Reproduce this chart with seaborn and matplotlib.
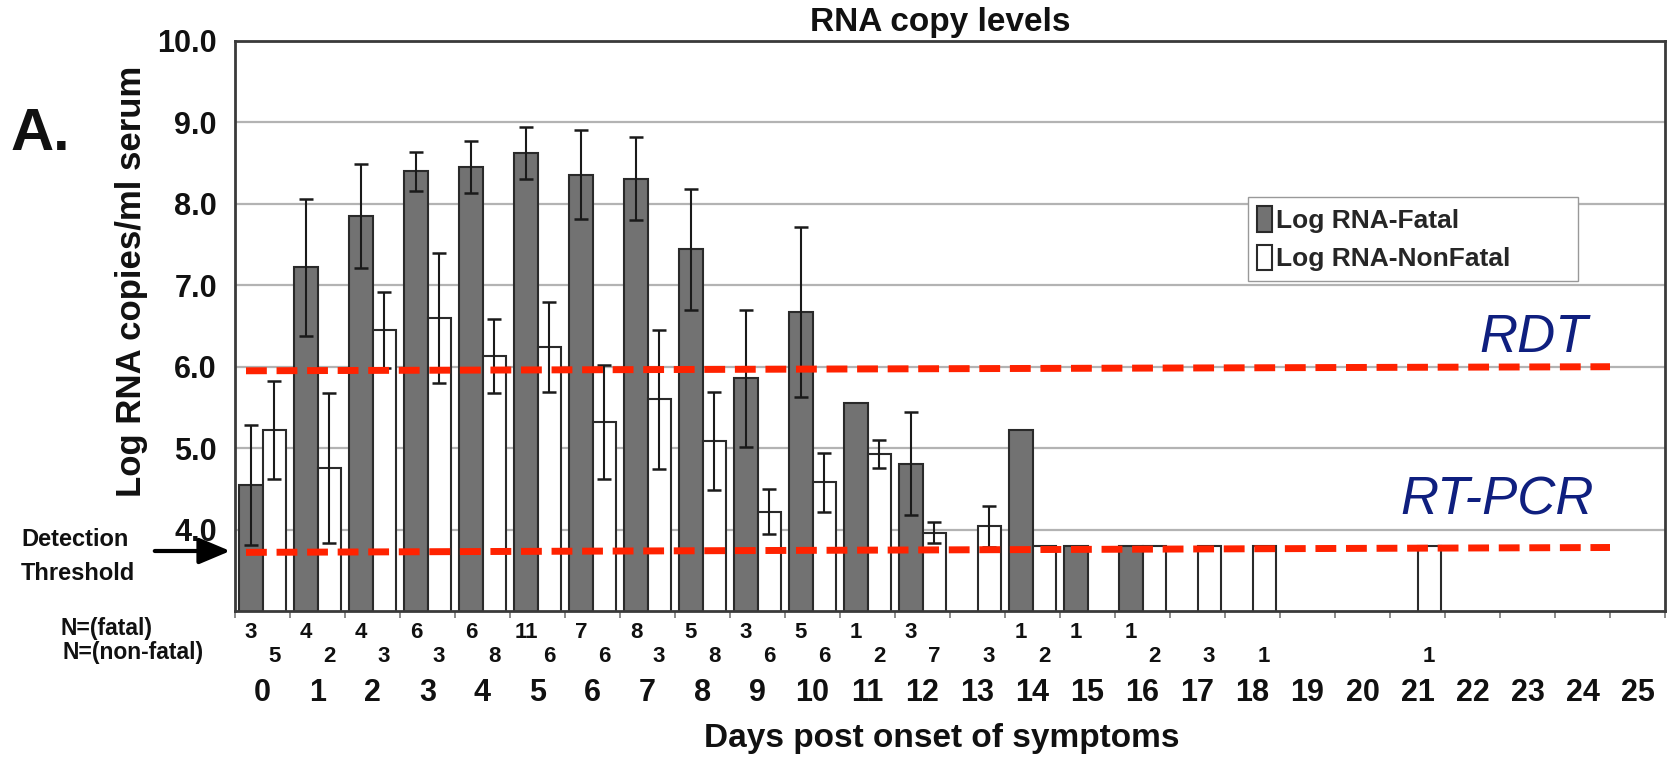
import numpy as np
import pandas as pd
import matplotlib
matplotlib.use("Agg")
import matplotlib.pyplot as plt
import seaborn as sns

# ---------------- data ----------------
days = list(range(26))
series_names = ["Log RNA-Fatal", "Log RNA-NonFatal"]
nan = np.nan
fatal_mean = [4.55, 7.22, 7.85, 8.40, 8.45, 8.62, 8.36, 8.31, 7.44, 5.86, 6.67, 5.56, 4.81, nan,
              5.22, 3.80, 3.80, nan, nan, nan, nan, nan, nan, nan, nan, nan]
fatal_err = [0.74, 0.84, 0.64, 0.24, 0.32, 0.32, 0.55, 0.51, 0.74, 0.84, 1.04, nan, 0.63, nan,
             nan, nan, nan, nan, nan, nan, nan, nan, nan, nan, nan, nan]
nonfatal_mean = [5.22, 4.76, 6.45, 6.60, 6.13, 6.24, 5.32, 5.60, 5.09, 4.22, 4.58, 4.93, 3.96, 4.04,
                 3.80, nan, 3.80, 3.80, 3.80, nan, nan, 3.80, nan, nan, nan, nan]
nonfatal_err = [0.60, 0.92, 0.47, 0.80, 0.45, 0.55, 0.70, 0.85, 0.60, 0.28, 0.36, 0.17, 0.13, 0.25,
                nan, nan, nan, nan, nan, nan, nan, nan, nan, nan, nan, nan]
n_fatal = ["3", "4", "4", "6", "6", "11", "7", "8", "5", "3", "5", "1", "3", "",
           "1", "1", "1", "", "", "", "", "", "", "", "", ""]
n_nonfatal = ["5", "2", "3", "3", "8", "6", "6", "3", "8", "6", "6", "2", "7", "3",
              "2", "", "2", "3", "1", "", "", "1", "", "", "", ""]
y_ticks = [4.0, 5.0, 6.0, 7.0, 8.0, 9.0, 10.0]
threshold_x = [-0.3, 24.5]
rdt_level = [5.95, 6.00]
rtpcr_level = [3.72, 3.78]

# ---------------- style ----------------
sns.set_theme(style="white")
plt.rcParams['font.family'] = ['Liberation Sans', 'DejaVu Sans']

W, H = 1678, 757
fig = plt.figure(figsize=(W / 100, H / 100), dpi=100)
L, R, T, B = 235, 1665, 41, 611
ax = fig.add_axes([L / W, 1 - B / H, (R - L) / W, (B - T) / H])

df = pd.concat([
    pd.DataFrame({"day": days, "value": fatal_mean, "err": fatal_err, "group": series_names[0]}),
    pd.DataFrame({"day": days, "value": nonfatal_mean, "err": nonfatal_err, "group": series_names[1]}),
]).dropna(subset=["value"])

bar_w = 0.84
sns.barplot(data=df, x="day", y="value", hue="group", order=days, hue_order=series_names,
            palette=["#727272", "#ffffff"], saturation=1, width=bar_w, errorbar=None,
            edgecolor="#2a2a2a", linewidth=1.5, ax=ax)

# error bars at the dodged bar centres
for k, name in enumerate(series_names):
    sub = df[(df["group"] == name) & df["err"].notna()]
    off = (k - 0.5) * bar_w / 2
    xs = [days.index(d) + off for d in sub["day"]]
    ax.errorbar(xs, sub["value"], yerr=sub["err"], fmt="none", ecolor="#1a1a1a",
                elinewidth=1.5, capsize=5, capthick=1.8, zorder=4)

ax.set_xlim(-0.5, 25.5)
ax.set_ylim(3, 10)

# grid & spines
ax.set_yticks(y_ticks)
ax.set_yticklabels([f"{v:.1f}" for v in y_ticks])
ax.yaxis.grid(True, color="#b3b3b3", lw=1.6)
ax.set_axisbelow(True)
for sp in ax.spines.values():
    sp.set_visible(True)
    sp.set_color("#3a3a3a")
    sp.set_linewidth(2)

ax.set_xticks(range(len(days)))
ax.set_xticklabels([str(d) for d in days])
ax.set_xticks(np.arange(-0.5, 26, 1), minor=True)
ax.tick_params(axis="x", which="major", length=0, pad=48, labelsize=22)
ax.tick_params(axis="x", which="minor", length=5, width=1.2, color="#777777", direction="out", bottom=True)
ax.tick_params(axis="y", length=0, pad=13, labelsize=22)
for lab in ax.get_xticklabels() + ax.get_yticklabels():
    lab.set_fontweight("bold")
    lab.set_color("#111111")

ax.set_xlabel("Days post onset of symptoms", fontsize=24, fontweight="bold", color="#111111")
ax.xaxis.set_label_coords((942 - L) / (R - L), (B - 738) / (B - T))
ax.xaxis.label.set_va("center")
ax.set_ylabel("")

# threshold lines
for lev in (rdt_level, rtpcr_level):
    ln, = ax.plot(threshold_x, lev, color="#ff2200", lw=5, zorder=5)
    ln.set_dashes((3.0, 1.4))
    ln.set_dash_capstyle("butt")
ax.text(22.12, 6.18, "RDT", fontsize=38, style="italic", color="#0f1f7f", ha="left", va="baseline")
ax.text(20.68, 4.18, "RT-PCR", fontsize=38, style="italic", color="#0f1f7f", ha="left", va="baseline")

# N labels
xt = ax.get_xaxis_transform()
for i, (nf, nn) in enumerate(zip(n_fatal, n_nonfatal)):
    if nf:
        ax.text(i - bar_w / 4, (B - 633) / (B - T), nf, transform=xt, ha="center", va="center",
                fontsize=16, fontweight="bold", color="#111111", clip_on=False)
    if nn:
        ax.text(i + bar_w / 4, (B - 657) / (B - T), nn, transform=xt, ha="center", va="center",
                fontsize=16, fontweight="bold", color="#111111", clip_on=False)

fig.text(60 / W, 1 - 629 / H, "N=(fatal)", ha="left", va="center", fontsize=16.5, fontweight="bold", color="#111111")
fig.text(63 / W, 1 - 653 / H, "N=(non-fatal)", ha="left", va="center", fontsize=16.5, fontweight="bold", color="#111111")

# detection threshold annotation
fig.text(21 / W, 1 - 540 / H, "Detection", ha="left", va="center", fontsize=17, fontweight="bold", color="#111111")
fig.text(21 / W, 1 - 573 / H, "Threshold", ha="left", va="center", fontsize=17, fontweight="bold", color="#111111")
fig.add_artist(matplotlib.patches.FancyArrowPatch(
    (152 / W, 1 - 551 / H), (233 / W, 1 - 551 / H), transform=fig.transFigure,
    arrowstyle="-|>,head_length=1.9,head_width=0.8", mutation_scale=10, lw=3, color="black"))

# y label, panel letter, title
fig.text(131 / W, 1 - 281 / H, "Log RNA copies/ml serum", rotation=90, ha="center", va="center",
         fontsize=25, fontweight="bold", color="#111111")
fig.text(40 / W, 1 - 134 / H, "A.", ha="center", va="center", fontsize=43, fontweight="bold", color="#111111")
fig.text(940 / W, 1 - 22 / H, "RNA copy levels", ha="center", va="center", fontsize=24, fontweight="bold", color="#111111")

# legend
handles, labels = ax.get_legend_handles_labels()
ax.legend(handles, labels, loc="upper left", mode="expand",
          bbox_to_anchor=((1248 - L) / (R - L), (B - 280) / (B - T), 330 / (R - L), 83 / (B - T)),
          frameon=True, fancybox=False, edgecolor="#999999", framealpha=1,
          prop={"weight": "bold", "size": 19}, handlelength=0.55, handleheight=1.1,
          handletextpad=0.15, borderpad=0.35, labelspacing=0.45, borderaxespad=0)
ax.get_legend().get_frame().set_linewidth(1.0)

fig.savefig("out.png", dpi=100)
